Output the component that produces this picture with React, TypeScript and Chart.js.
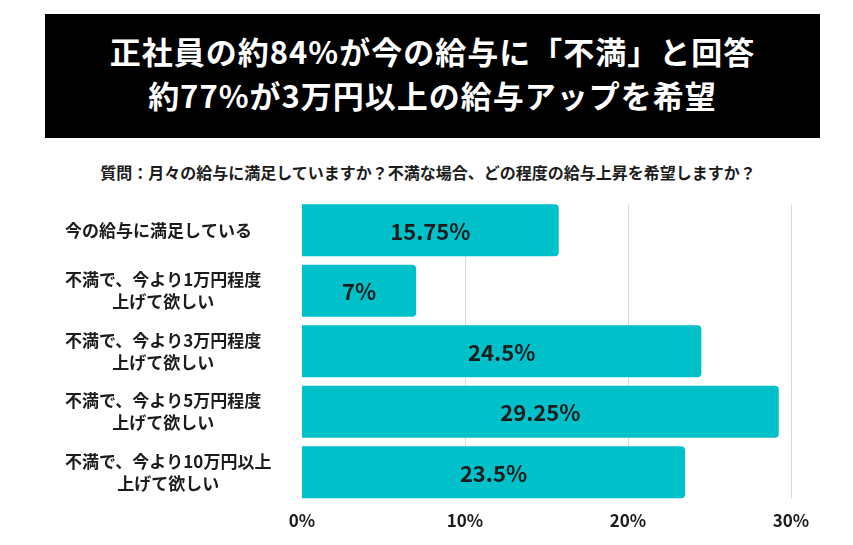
import React, { useEffect, useRef } from "react";
import { Chart, registerables } from "chart.js";

Chart.register(...registerables);

const TITLE_LINES = ["正社員の約84%が今の給与に「不満」と回答", "約77%が3万円以上の給与アップを希望"];
const SUBTITLE = "質問：月々の給与に満足していますか？不満な場合、どの程度の給与上昇を希望しますか？";
const CATEGORY_LINES: string[][] = [
  ["今の給与に満足している"],
  ["不満で、今より1万円程度", "上げて欲しい"],
  ["不満で、今より3万円程度", "上げて欲しい"],
  ["不満で、今より5万円程度", "上げて欲しい"],
  ["不満で、今より10万円以上", "上げて欲しい"],
];
const VALUES = [15.75, 7, 24.5, 29.25, 23.5];
const VALUE_LABELS = ["15.75%", "7%", "24.5%", "29.25%", "23.5%"];
const X_TICKS = [0, 10, 20, 30];

const FONT = "'Noto Sans CJK JP', 'Noto Sans', sans-serif";
const BAR_COLOR = "#00C1CA";
const TEXT_COLOR = "#1c1c1c";

const customPlugin = {
  id: "custom",
  beforeDatasetsDraw(chart: any) {
    const ctx = chart.ctx;
    const meta = chart.getDatasetMeta(0);
    const first = meta.data[0];
    const last = meta.data[meta.data.length - 1];
    const top = first.y - first.height / 2;
    const bottom = last.y + last.height / 2;
    const xs = chart.scales.x;
    ctx.save();
    ctx.strokeStyle = "#d9d9d9";
    ctx.lineWidth = 1;
    X_TICKS.forEach((t) => {
      if (t === 0) return;
      const x = Math.round(xs.getPixelForValue(t)) + 0.5;
      ctx.beginPath();
      ctx.moveTo(x, top);
      ctx.lineTo(x, bottom);
      ctx.stroke();
    });
    ctx.restore();
  },
  afterDatasetsDraw(chart: any) {
    const ctx = chart.ctx;
    const meta = chart.getDatasetMeta(0);
    const ys = chart.scales.y;
    ctx.save();
    ctx.font = `bold 22px ${FONT}`;
    ctx.fillStyle = TEXT_COLOR;
    ctx.textAlign = "center";
    ctx.textBaseline = "middle";
    meta.data.forEach((bar: any, i: number) => {
      const cx = (bar.x + bar.base) / 2;
      ctx.fillText(VALUE_LABELS[i], cx, bar.y + 1);
    });
    ctx.font = `bold 17px ${FONT}`;
    const lineGap = 22;
    const leftX = 65;
    CATEGORY_LINES.forEach((lines, i) => {
      const cy = ys.getPixelForValue(i);
      const maxW = Math.max(...lines.map((l) => ctx.measureText(l).width));
      const cx = leftX + maxW / 2;
      const startY = cy - ((lines.length - 1) * lineGap) / 2;
      lines.forEach((l, j) => {
        ctx.fillText(l, cx, startY + j * lineGap);
      });
    });
    ctx.restore();
  },
};

export default function App() {
  const canvasRef = useRef<HTMLCanvasElement | null>(null);

  useEffect(() => {
    document.body.style.margin = "0";
    const canvas = canvasRef.current;
    if (!canvas) return;
    const chart = new Chart(canvas, {
      type: "bar",
      data: {
        labels: CATEGORY_LINES.map((l) => l.join("")),
        datasets: [
          {
            data: VALUES,
            backgroundColor: BAR_COLOR,
            borderRadius: 4,
            borderSkipped: "start",
            categoryPercentage: 1,
            barPercentage: 0.86,
          },
        ],
      },
      options: {
        indexAxis: "y",
        animation: false,
        responsive: false,
        maintainAspectRatio: false,
        events: [],
        layout: { padding: { left: 302, right: 62, top: 200, bottom: 6 } },
        plugins: {
          legend: { display: false },
          tooltip: { enabled: false },
          title: { display: false },
        },
        scales: {
          x: {
            min: 0,
            max: 30,
            afterBuildTicks: (scale: any) => {
              scale.ticks = X_TICKS.map((v) => ({ value: v }));
            },
            grid: { display: false, drawTicks: false },
            border: { display: false },
            ticks: {
              padding: 8,
              color: TEXT_COLOR,
              font: { family: FONT, size: 17, weight: "bold" },
              callback: (v: any) => `${v}%`,
            },
          },
          y: {
            grid: { display: false, drawTicks: false },
            border: { display: false },
            ticks: { display: false },
          },
        },
      },
      plugins: [customPlugin],
    });
    return () => chart.destroy();
  }, []);

  return (
    <div style={{ position: "relative", width: 853, height: 545, background: "#fff", fontFamily: FONT }}>
      <div
        style={{
          position: "absolute",
          left: 45,
          top: 14,
          width: 775,
          height: 124,
          background: "#000",
          color: "#fff",
          textAlign: "center",
          fontWeight: 700,
          fontSize: 31,
          letterSpacing: 1,
          lineHeight: "43.5px",
          paddingTop: 15,
          boxSizing: "border-box",
        }}
      >
        {TITLE_LINES.map((l) => (
          <div key={l}>{l}</div>
        ))}
      </div>
      <div
        style={{
          position: "absolute",
          left: 0,
          top: 160,
          width: 856,
          textAlign: "center",
          fontWeight: 700,
          fontSize: 16,
          lineHeight: "24px",
          color: TEXT_COLOR,
        }}
      >
        {SUBTITLE}
      </div>
      <canvas ref={canvasRef} width={853} height={545} style={{ position: "absolute", left: 0, top: 0 }} />
    </div>
  );
}
